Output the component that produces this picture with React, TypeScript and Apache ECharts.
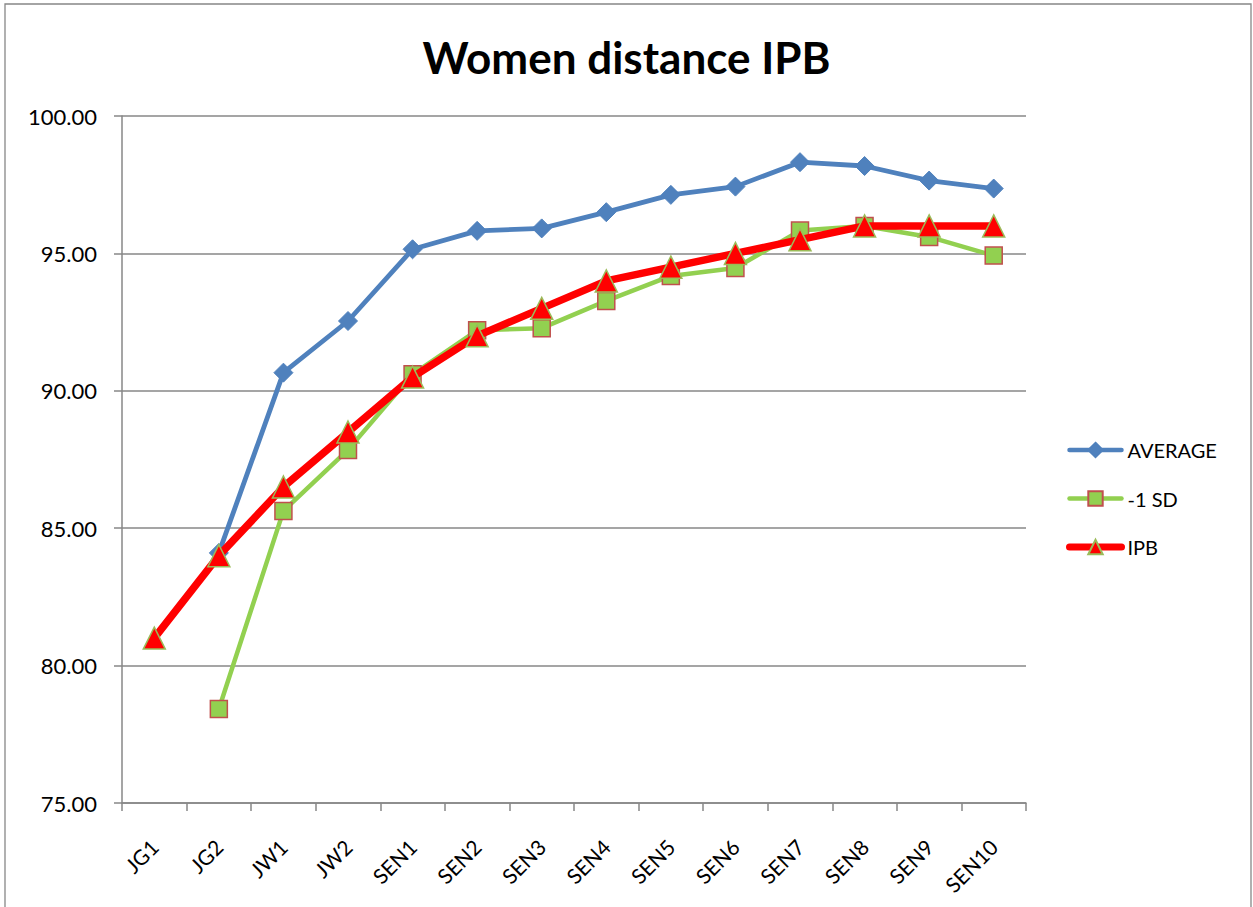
import React, { useEffect, useRef } from "react";
import * as echarts from "echarts";

const categories = ["JG1", "JG2", "JW1", "JW2", "SEN1", "SEN2", "SEN3", "SEN4", "SEN5", "SEN6", "SEN7", "SEN8", "SEN9", "SEN10"];
const average = [null, 84.1, 90.66, 92.54, 95.15, 95.82, 95.91, 96.5, 97.13, 97.43, 98.32, 98.18, 97.65, 97.36];
const minusOneSd = [null, 78.42, 85.63, 87.85, 90.6, 92.2, 92.28, 93.27, 94.18, 94.47, 95.83, 96.0, 95.6, 94.92];
const ipb = [81, 84, 86.5, 88.5, 90.5, 92, 93, 94, 94.5, 95, 95.5, 96, 96, 96];

const FONT = "Lato, 'Open Sans', sans-serif";
const GRAY = "#878787";
const BLUE = "#4F81BD";
const GREEN = "#92D050";
const RED = "#FF0000";

export default function App() {
  const ref = useRef<HTMLDivElement>(null);
  useEffect(() => {
    if (!ref.current) return;
    const chart = echarts.init(ref.current, undefined, { renderer: "svg" });
    chart.setOption({
      animation: false,
      backgroundColor: "#fff",
      title: {
        text: "Women distance IPB",
        left: "center",
        top: 30,
        textStyle: { fontFamily: FONT, fontSize: 44, fontWeight: "bold", color: "#000" },
      },
      graphic: [
        {
          type: "rect",
          shape: { x: 5, y: 4, width: 1246, height: 930 },
          style: { fill: "none", stroke: GRAY, lineWidth: 1.3 },
          z: -1,
          silent: true,
        },
      ],
      legend: {
        orient: "vertical",
        left: 1066,
        top: 440,
        padding: 0,
        itemWidth: 52,
        itemHeight: 18,
        itemGap: 28.5,
        textStyle: { fontFamily: FONT, fontSize: 20, color: "#000", padding: [0, 0, 0, 1] },
        data: [
          { name: "AVERAGE", lineStyle: { width: 4.5, cap: "round" } },
          { name: "-1 SD", lineStyle: { width: 4.5, cap: "round" } },
          { name: "IPB", lineStyle: { width: 7, cap: "round" } },
        ],
      },
      grid: { left: 122, right: 227, top: 116, bottom: 104, containLabel: false },
      xAxis: {
        type: "category",
        data: categories,
        boundaryGap: true,
        axisLine: { lineStyle: { color: GRAY, width: 1.5 } },
        axisTick: { show: true, length: 8, lineStyle: { color: GRAY, width: 1.5 } },
        axisLabel: { rotate: 45, margin: 40, fontFamily: FONT, fontSize: 21, color: "#000", interval: 0 },
      },
      yAxis: {
        type: "value",
        min: 75,
        max: 100,
        interval: 5,
        axisLine: { show: true, lineStyle: { color: GRAY, width: 1.5 } },
        axisTick: { show: true, length: 8, lineStyle: { color: GRAY, width: 1.5 } },
        splitLine: { lineStyle: { color: GRAY, width: 1.5 } },
        axisLabel: {
          margin: 25,
          fontFamily: FONT,
          fontSize: 22,
          color: "#000",
          formatter: (v: number) => v.toFixed(2),
        },
      },
      series: [
        {
          name: "AVERAGE",
          type: "line",
          data: average,
          symbol: "diamond",
          symbolSize: 19,
          lineStyle: { color: BLUE, width: 4.8 },
          itemStyle: { color: BLUE, borderColor: BLUE, borderWidth: 1 },
          z: 2,
        },
        {
          name: "-1 SD",
          type: "line",
          data: minusOneSd,
          symbol: "rect",
          symbolSize: 17,
          lineStyle: { color: GREEN, width: 4.5 },
          itemStyle: { color: GREEN, borderColor: "#C0504D", borderWidth: 1.5 },
          z: 3,
        },
        {
          name: "IPB",
          type: "line",
          data: ipb,
          symbol: "triangle",
          symbolSize: 22,
          lineStyle: { color: RED, width: 7.5 },
          itemStyle: { color: RED, borderColor: "#9BBB59", borderWidth: 1.5 },
          z: 4,
        },
      ],
    });
    return () => chart.dispose();
  }, []);
  return (
    <div
      ref={ref}
      style={{ position: "fixed", left: 0, top: 0, width: 1253, height: 907, background: "#fff" }}
    />
  );
}
